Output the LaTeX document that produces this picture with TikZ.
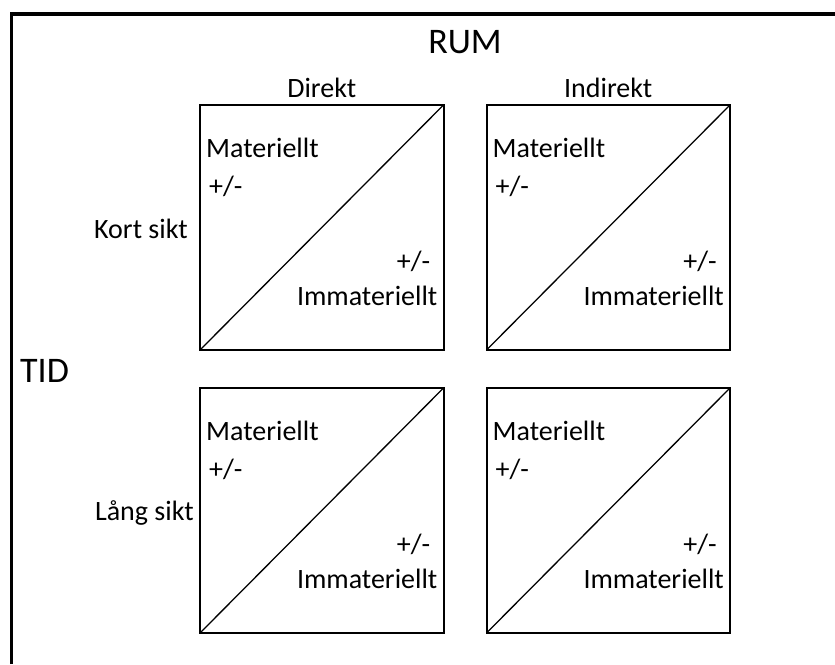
\documentclass[tikz,border=0pt]{standalone}
\usepackage{fontspec}
\setmainfont{Carlito}
\begin{document}
\begin{tikzpicture}[x=1pt,y=-1pt,
  cell/.style={draw, line width=2pt, minimum width=243.5pt, minimum height=245pt, inner sep=0pt, outer sep=0pt, anchor=north west},
  lbl/.style={inner sep=0pt, font=\fontsize{28}{30}\selectfont},
  big/.style={inner sep=0pt, font=\fontsize{36}{40}\selectfont},
  diag/.style={line width=1.3pt},
  frame/.style={line width=3.5pt}]
\useasboundingbox (0,0) rectangle (835,664);
\coordinate (f1) at (11.5,664);
\coordinate (f2) at (11.5,14);
\coordinate (f3) at (835,14);
\draw[frame] (f1) -- (f2) -- (f3);
% cells
\node[cell] (A) at (200,105) {};
\node[cell] (B) at (486.5,105) {};
\node[cell] (C) at (200,388) {};
\node[cell] (D) at (486.5,388) {};
\foreach \b in {A,B,C,D}{
  \draw[diag] (\b.south west) -- (\b.north east);
  \node[lbl, anchor=base west] (\b m) at ([shift={(6,52)}]\b.north west) {Materiellt};
  \node[lbl, anchor=base west] (\b p) at ([shift={(9,90)}]\b.north west) {+/-};
  \node[lbl, anchor=base east] (\b q) at ([shift={(-13,165)}]\b.north east) {+/-};
  \node[lbl, anchor=base east] (\b i) at ([shift={(-6,200)}]\b.north east) {Immateriellt};
}
% headers
\node[big, anchor=base] (rum) at (465,53) {RUM};
\node[lbl, anchor=base] (dir) at ([shift={(0,-8)}]A.north) {Direkt};
\node[lbl, anchor=base] (ind) at ([shift={(0,-8)}]B.north) {Indirekt};
\node[big, anchor=base west] (tid) at (20,382) {TID};
\node[lbl, anchor=base east] (kort) at (188,238) {Kort sikt};
\node[lbl, anchor=base east] (lang) at (194,520) {Lång sikt};
\end{tikzpicture}
\end{document}
